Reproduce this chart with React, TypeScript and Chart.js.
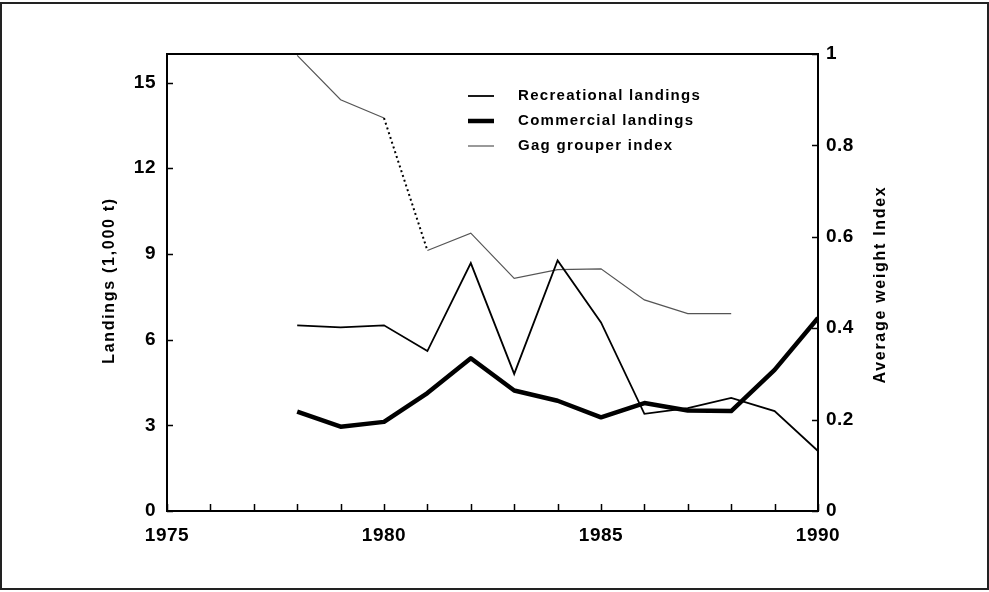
import React, { useEffect, useRef } from "react";
import { Chart, registerables } from "chart.js";

Chart.register(...registerables);

// ---- data ----
const years = [1978, 1979, 1980, 1981, 1982, 1983, 1984, 1985, 1986, 1987, 1988, 1989, 1990];
const recreational = [6.5, 6.43, 6.5, 5.6, 8.68, 4.8, 8.77, 6.6, 3.4, 3.6, 3.96, 3.5, 2.1];
const commercial = [3.48, 2.95, 3.12, 4.13, 5.35, 4.22, 3.86, 3.28, 3.78, 3.52, 3.5, 4.94, 6.76];
const gagYears = [1978, 1979, 1980, 1981, 1982, 1983, 1984, 1985, 1986, 1987, 1988];
const gagIndex = [0.997, 0.9, 0.86, 0.57, 0.608, 0.509, 0.528, 0.53, 0.462, 0.432, 0.432];
const dottedFromYear = 1980;
const minorTickYears = [1975, 1976, 1977, 1978, 1979, 1980, 1981, 1982, 1983, 1984, 1985, 1986, 1987, 1988, 1989, 1990];
const seriesLabels = ["Recreational landings", "Commercial landings", "Gag grouper index"];
const leftTitle = "Landings (1,000 t)";
const rightTitle = "Average weight Index";

const FONT = '"Liberation Sans", Arial, sans-serif';

const decorPlugin = {
  id: "decor",
  beforeDraw(chart: any) {
    const ctx = chart.ctx as CanvasRenderingContext2D;
    ctx.save();
    ctx.fillStyle = "#fff";
    ctx.fillRect(0, 0, chart.width, chart.height);
    ctx.restore();
    (ctx as any).letterSpacing = "0.5px";
  },
  afterDraw(chart: any) {
    const ctx = chart.ctx as CanvasRenderingContext2D;
    const a = chart.chartArea;
    const { x, y, y1 } = chart.scales;
    ctx.save();
    (ctx as any).letterSpacing = "0px";
    ctx.strokeStyle = "#000";
    // plot box
    ctx.lineWidth = 2;
    ctx.strokeRect(a.left, a.top, a.right - a.left, a.bottom - a.top);
    // tick marks (inward)
    ctx.lineWidth = 1.5;
    ctx.beginPath();
    minorTickYears.forEach((yr) => {
      const px = Math.round(x.getPixelForValue(yr)) + 0.5;
      ctx.moveTo(px, a.bottom);
      ctx.lineTo(px, a.bottom - 7);
    });
    y.ticks.forEach((t: any) => {
      const py = Math.round(y.getPixelForValue(t.value)) + 0.5;
      ctx.moveTo(a.left, py);
      ctx.lineTo(a.left + 6, py);
    });
    y1.ticks.forEach((t: any) => {
      const py = Math.round(y1.getPixelForValue(t.value)) + 0.5;
      ctx.moveTo(a.right, py);
      ctx.lineTo(a.right - 6, py);
    });
    ctx.stroke();

    // axis titles
    ctx.fillStyle = "#000";
    ctx.font = `bold 16px ${FONT}`;
    (ctx as any).letterSpacing = "1.7px";
    ctx.textAlign = "center";
    ctx.textBaseline = "middle";
    const midY = (a.top + a.bottom) / 2;
    ctx.save();
    ctx.translate(110, midY - 2);
    ctx.rotate(-Math.PI / 2);
    ctx.fillText(leftTitle, 0, 0);
    ctx.restore();
    ctx.save();
    ctx.translate(881, midY + 2);
    ctx.rotate(-Math.PI / 2);
    ctx.fillText(rightTitle, 0, 0);
    ctx.restore();

    // legend
    ctx.font = `bold 15px ${FONT}`;
    (ctx as any).letterSpacing = "1.3px";
    ctx.textAlign = "left";
    const rows = [96, 121, 146];
    chart.data.datasets.forEach((ds: any, i: number) => {
      ctx.save();
      ctx.strokeStyle = ds.borderColor;
      ctx.lineWidth = ds.borderWidth;
      ctx.beginPath();
      ctx.moveTo(468, rows[i]);
      ctx.lineTo(494, rows[i]);
      ctx.stroke();
      ctx.restore();
      ctx.fillText(ds.label, 518, rows[i]);
    });

    // outer frame
    (ctx as any).letterSpacing = "0px";
    ctx.lineWidth = 2;
    ctx.strokeStyle = "#222";
    ctx.strokeRect(1, 3, 987, 586);
    ctx.restore();
  },
};

export default function App() {
  const ref = useRef<HTMLCanvasElement | null>(null);
  useEffect(() => {
    document.body.style.margin = "0";
    if (!ref.current) return;
    const tickFont = { family: FONT, size: 19, weight: "bold" as const };
    const chart = new Chart(ref.current, {
      type: "line",
      data: {
        datasets: [
          {
            label: seriesLabels[0],
            data: years.map((yr, i) => ({ x: yr, y: recreational[i] })),
            borderColor: "#000",
            borderWidth: 1.8,
            pointRadius: 0,
            yAxisID: "y",
          },
          {
            label: seriesLabels[1],
            data: years.map((yr, i) => ({ x: yr, y: commercial[i] })),
            borderColor: "#000",
            borderWidth: 4.5,
            borderJoinStyle: "round",
            pointRadius: 0,
            yAxisID: "y",
          },
          {
            label: seriesLabels[2],
            data: gagYears.map((yr, i) => ({ x: yr, y: gagIndex[i] })),
            borderColor: "#555",
            borderWidth: 1.2,
            pointRadius: 0,
            yAxisID: "y1",
            segment: {
              borderDash: (c: any) => (c.p0.parsed.x === dottedFromYear ? [2, 3] : undefined),
              borderColor: (c: any) => (c.p0.parsed.x === dottedFromYear ? "#000" : undefined),
              borderWidth: (c: any) => (c.p0.parsed.x === dottedFromYear ? 2 : undefined),
            },
          },
        ],
      },
      options: {
        animation: false,
        responsive: false,
        maintainAspectRatio: false,
        layout: { padding: { top: 54, left: 0, right: 0, bottom: 0 } },
        plugins: { legend: { display: false }, tooltip: { enabled: false } },
        scales: {
          x: {
            type: "linear",
            min: 1975,
            max: 1990,
            grid: { display: false, drawTicks: false },
            border: { display: false },
            ticks: {
              stepSize: 5,
              padding: 13,
              color: "#000",
              font: tickFont,
              maxRotation: 0,
              callback: (v: any) => String(v),
            },
            afterFit: (s: any) => {
              s.height = 81;
            },
          },
          y: {
            type: "linear",
            position: "left",
            min: 0,
            max: 16,
            grid: { display: false, drawTicks: false },
            border: { display: false },
            ticks: {
              stepSize: 3,
              includeBounds: false,
              padding: 11,
              color: "#000",
              font: tickFont,
              callback: (v: any) => String(v),
            },
            afterFit: (s: any) => {
              s.width = 167;
            },
          },
          y1: {
            type: "linear",
            position: "right",
            min: 0,
            max: 1,
            grid: { display: false, drawTicks: false },
            border: { display: false },
            ticks: {
              stepSize: 0.2,
              padding: 8,
              color: "#000",
              font: tickFont,
              callback: (v: any) => Number(v).toFixed(1).replace(/\.0$/, ""),
            },
            afterFit: (s: any) => {
              s.width = 171;
            },
          },
        },
      },
      plugins: [decorPlugin],
    } as any);
    return () => chart.destroy();
  }, []);
  return (
    <div style={{ width: 989, height: 592 }}>
      <canvas ref={ref} width={989} height={592} style={{ display: "block" }} />
    </div>
  );
}
